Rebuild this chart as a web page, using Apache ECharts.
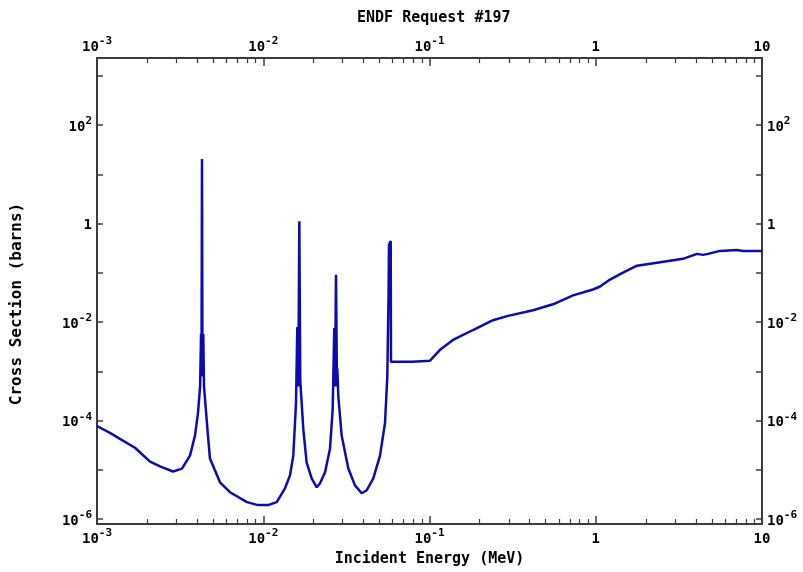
<!DOCTYPE html>
<html>
<head>
<meta charset="utf-8">
<script src="https://cdn.jsdelivr.net/npm/echarts@6/dist/echarts.min.js"></script>
<style>
html,body{margin:0;padding:0;background:#fff;}
#chart{width:803px;height:572px;}
</style>
</head>
<body>
<div id="chart"></div>
<script>
// Incident energy (MeV)
const energyMeV = [
  1.000e-3, 1.197e-3, 1.374e-3, 1.693e-3, 2.085e-3, 2.394e-3, 2.865e-3, 3.245e-3, 3.624e-3, 3.882e-3,
  4.05e-3, 4.17e-3, 4.226e-3, 4.251e-3, 4.281e-3, 4.311e-3, 4.358e-3, 4.401e-3, 4.524e-3, 4.651e-3,
  4.781e-3, 5.493e-3, 6.31e-3, 7.98e-3, 9.30e-3, 1.068e-2, 1.205e-2, 1.351e-2, 1.448e-2, 1.516e-2,
  1.574e-2, 1.603e-2, 1.625e-2, 1.648e-2, 1.670e-2, 1.703e-2, 1.741e-2, 1.824e-2, 1.956e-2, 2.097e-2,
  2.195e-2, 2.351e-2, 2.520e-2, 2.616e-2, 2.675e-2, 2.701e-2, 2.739e-2, 2.777e-2, 2.789e-2, 2.828e-2,
  2.964e-2, 3.248e-2, 3.563e-2, 3.911e-2, 4.192e-2, 4.592e-2, 5.038e-2, 5.400e-2, 5.575e-2, 5.668e-2,
  5.707e-2, 5.843e-2, 5.867e-2, 7.85e-2, 8.07e-2, 0.1007, 0.1156, 0.1385, 0.1827, 0.2410,
  0.2925, 0.4195, 0.5533, 0.7299, 0.9627, 1.061, 1.218, 1.458, 1.770, 2.335,
  3.348, 4.064, 4.417, 4.732, 5.590, 7.07, 7.69, 10.0
];
// Cross section (barns)
const crossSection = [
  7.76e-5, 5.62e-5, 4.26e-5, 2.81e-5, 1.47e-5, 1.17e-5, 9.25e-6, 1.06e-5, 1.94e-5, 4.89e-5,
  1.42e-4, 4.93e-4, 5.73e-3, 7.84e-4, 20.5, 7.84e-4, 5.73e-3, 4.93e-4, 1.55e-4, 4.89e-5,
  1.69e-5, 5.57e-6, 3.51e-6, 2.21e-6, 1.92e-6, 1.92e-6, 2.21e-6, 4.22e-6, 7.69e-6, 1.94e-5,
  2.25e-4, 7.91e-3, 4.93e-4, 1.11, 6.22e-4, 2.25e-4, 6.76e-5, 1.40e-5, 6.70e-6, 4.42e-6,
  5.32e-6, 8.83e-6, 2.68e-5, 1.70e-4, 7.55e-3, 4.93e-4, 9.16e-2, 4.93e-4, 1.14e-3, 3.11e-4,
  4.89e-5, 1.06e-5, 4.84e-6, 3.35e-6, 3.85e-6, 6.70e-6, 1.94e-5, 8.91e-5, 7.84e-4, 3.17e-2,
  0.367, 0.442, 1.57e-3, 1.57e-3, 1.64e-3, 1.64e-3, 2.73e-3, 4.34e-3, 6.89e-3, 1.09e-2,
  1.32e-2, 1.74e-2, 2.29e-2, 3.48e-2, 4.58e-2, 5.26e-2, 7.28e-2, 0.1007, 0.139, 0.160,
  0.192, 0.242, 0.231, 0.242, 0.278, 0.291, 0.278, 0.278
];
// Tick labels (decade exponents)
const xTickExponents = [-3, -2, -1, 0, 1];
const yTickExponents = [-6, -4, -2, 0, 2];
const yTickAll = [-6, -5, -4, -3, -2, -1, 0, 1, 2, 3];
const yExtent = [-6.1, 3.36];
const xExtent = [-3, 1];

const titleText = 'ENDF Request #197';
const xName = 'Incident Energy (MeV)';
const yName = 'Cross Section (barns)';

const xMinorTicks = [];
for (let d = -3; d < 1; d++) {
  for (let k = 2; k <= 9; k++) xMinorTicks.push(d + Math.log10(k));
}

const seriesData = energyMeV.map((e, i) => [Math.log10(e), Math.log10(crossSection[i])]);

const FONT = 'DejaVu Sans Mono';
const frameColor = '#3c3c3c';

function expLabel(v) {
  const n = Math.round(v);
  if (n === 0) return '{b|1}';
  if (n === 1) return '{b|10}';
  return '{b|10}{s|' + n + '}';
}
const rich = {
  b: { fontFamily: FONT, fontWeight: 'bold', fontSize: 14, color: '#000', lineHeight: 18, verticalAlign: 'bottom' },
  s: { fontFamily: FONT, fontWeight: 'bold', fontSize: 11, color: '#000', lineHeight: 18, verticalAlign: 'top' }
};

function xMajor(pos, withName) {
  const ax = {
    type: 'value', position: pos, min: xExtent[0], max: xExtent[1],
    axisLine: { show: true, onZero: false, lineStyle: { color: frameColor, width: 2 } },
    axisTick: { show: true, inside: true, length: 8, customValues: xTickExponents, lineStyle: { color: frameColor, width: 1.5 } },
    axisLabel: { show: true, customValues: xTickExponents, formatter: expLabel, rich: rich, margin: 4 },
    splitLine: { show: false }
  };
  if (withName) {
    ax.name = xName; ax.nameLocation = 'middle'; ax.nameGap = 28;
    ax.nameTextStyle = { fontFamily: FONT, fontWeight: 'bold', fontSize: 15, color: '#000' };
  }
  return ax;
}
function xMinor(pos) {
  return {
    type: 'value', position: pos, min: xExtent[0], max: xExtent[1],
    axisLine: { show: false, onZero: false },
    axisTick: { show: true, inside: true, length: 5, customValues: xMinorTicks, lineStyle: { color: frameColor, width: 1.2 } },
    axisLabel: { show: false },
    splitLine: { show: false }
  };
}
function yAx(pos, withName) {
  const ax = {
    type: 'value', position: pos, min: yExtent[0], max: yExtent[1],
    axisLine: { show: true, onZero: false, lineStyle: { color: frameColor, width: 2 } },
    axisTick: { show: true, inside: true, length: 6, customValues: yTickAll, lineStyle: { color: frameColor, width: 1.5 } },
    axisLabel: { show: true, customValues: yTickExponents, formatter: expLabel, rich: rich, margin: 5 },
    splitLine: { show: false }
  };
  if (withName) {
    ax.name = yName; ax.nameLocation = 'middle'; ax.nameGap = 72;
    ax.nameTextStyle = { fontFamily: FONT, fontWeight: 'bold', fontSize: 16, color: '#000', padding: [0, 26, 0, 0] };
  }
  return ax;
}

const chart = echarts.init(document.getElementById('chart'), null, { renderer: 'canvas' });
chart.setOption({
  animation: false,
  backgroundColor: '#fff',
  title: {
    text: titleText, left: 352, top: 6,
    textStyle: { fontFamily: FONT, fontWeight: 'bold', fontSize: 15, color: '#000' }
  },
  grid: { left: 97, right: 41, top: 58, bottom: 43, containLabel: false },
  xAxis: [xMajor('bottom', true), xMinor('bottom'), xMajor('top', false), xMinor('top')],
  yAxis: [yAx('left', true), yAx('right', false)],
  series: [{
    type: 'line', xAxisIndex: 0, yAxisIndex: 0,
    data: seriesData, showSymbol: false, smooth: false, clip: true,
    lineStyle: { color: '#0c0cac', width: 2.5 }
  }]
});
</script>
</body>
</html>
